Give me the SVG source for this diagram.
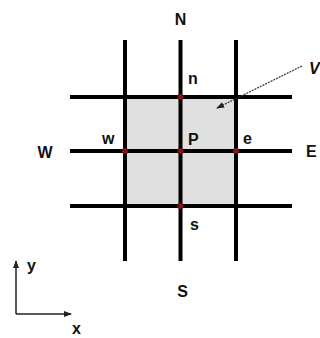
<svg xmlns="http://www.w3.org/2000/svg" width="320" height="338" viewBox="0 0 320 338">
<style>
.g{stroke:#000;stroke-width:4;fill:none}
.d{fill:#7a1a1a;stroke:#5a0000;stroke-width:0.5}
.t{font-family:"Liberation Sans",Arial,sans-serif;font-size:16px;font-weight:bold;fill:#111}
.ax{stroke:#222;stroke-width:1.5;fill:none}
</style>
<defs>
<marker id="ah" markerWidth="8" markerHeight="6" refX="7" refY="3" orient="auto" markerUnits="userSpaceOnUse">
<path d="M0,0 L8,3 L0,6 Z" fill="#222"/>
</marker>
</defs>
<rect width="320" height="338" fill="#fff"/>
<g id="cell"><rect x="125" y="97" width="111" height="109" fill="#e0e0e0"/></g>
<g id="grid">
<line class="g" x1="125" y1="40" x2="125" y2="261"/>
<line class="g" x1="180.5" y1="40" x2="180.5" y2="261"/>
<line class="g" x1="236" y1="40" x2="236" y2="261"/>
<line class="g" x1="70" y1="97" x2="292" y2="97"/>
<line class="g" x1="70" y1="151" x2="292" y2="151"/>
<line class="g" x1="70" y1="206" x2="292" y2="206"/>
</g>
<g id="nodes">
<g id="node-n"><circle class="d" cx="180.5" cy="97" r="3"/><text class="t" x="188" y="84">n</text></g>
<g id="node-w"><circle class="d" cx="125" cy="151" r="3"/><text class="t" x="102" y="144">w</text></g>
<g id="node-P"><circle class="d" cx="180.5" cy="151" r="3"/><text class="t" x="188" y="145" font-size="17">P</text></g>
<g id="node-e"><circle class="d" cx="236" cy="151" r="3"/><text class="t" x="243" y="144">e</text></g>
<g id="node-s"><circle class="d" cx="180.5" cy="206" r="3"/><text class="t" x="190" y="230">s</text></g>
<g id="node-N"><text class="t" x="180.5" y="25" text-anchor="middle">N</text></g>
<g id="node-S"><text class="t" x="182.5" y="297" text-anchor="middle" font-size="17">S</text></g>
<g id="node-W"><text class="t" x="45" y="158" text-anchor="middle" font-size="17">W</text></g>
<g id="node-E"><text class="t" x="306" y="157" font-size="17">E</text></g>
<g id="node-V"><text class="t" x="309" y="74" font-style="italic" font-weight="normal" font-size="18">V</text></g>
<g id="node-y"><text class="t" x="27" y="271">y</text></g>
<g id="node-x"><text class="t" x="72" y="334">x</text></g>
</g>
<g id="connectors">
<line x1="302" y1="66" x2="217" y2="108" stroke="#333" stroke-width="1.2" stroke-dasharray="2,1" marker-end="url(#ah)"/>
<line class="ax" x1="16" y1="314" x2="16" y2="261" marker-end="url(#ah)"/>
<line class="ax" x1="16" y1="314" x2="71" y2="314" marker-end="url(#ah)"/>
</g>
</svg>
